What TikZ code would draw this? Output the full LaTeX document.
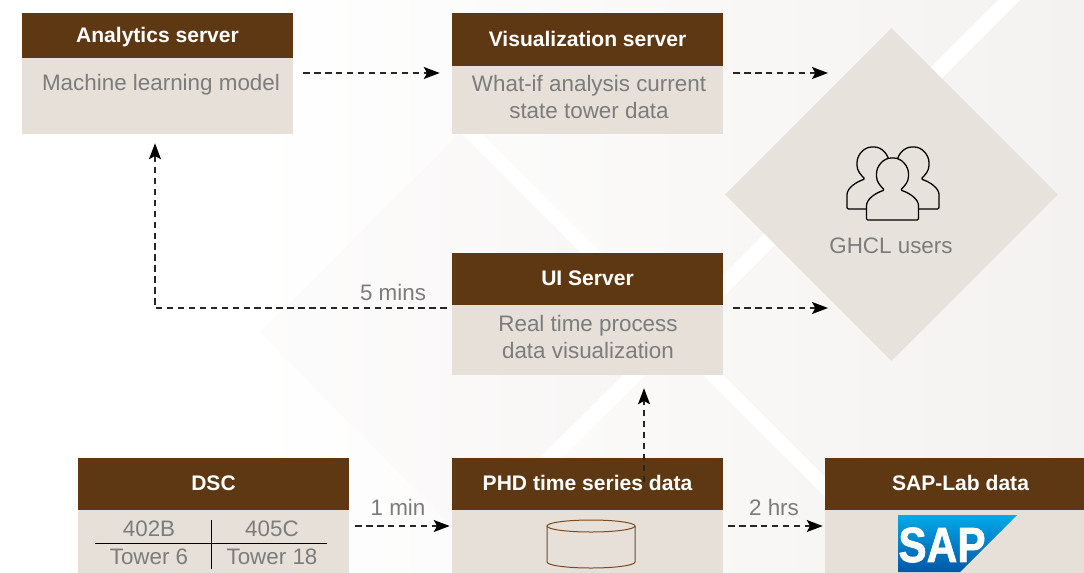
\documentclass[tikz,border=0pt]{standalone}
\usepackage{fontspec}
\setmainfont{Liberation Sans}
\newfontfamily\sapfont[UprightFont={* Bold},FakeBold=1.5]{Liberation Sans}
\usetikzlibrary{arrows.meta,shapes.geometric}
\definecolor{headbrown}{HTML}{5E3813}
\definecolor{bodytan}{HTML}{E6E0D9}
\definecolor{usertan}{HTML}{E8E2DC}
\definecolor{softgrey}{HTML}{7C7C7C}
\definecolor{bgright}{HTML}{F4F2F0}
\definecolor{tankbrown}{HTML}{7A4A20}
\definecolor{sapcyan}{HTML}{00A9E8}
\definecolor{sapblue}{HTML}{0057A8}
\definecolor{palefill}{HTML}{8A6A4A}
\tikzset{
	headbox/.style={fill=headbrown, text=white, font=\fontsize{15.8}{20}\selectfont\bfseries, minimum width=203.25pt, minimum height=#1, text height=11.5pt, text depth=1.6pt, inner sep=0pt},
	bodybox/.style={fill=bodytan, minimum width=203.25pt, minimum height=#1, inner sep=0pt},
	softtext/.style={text=softgrey, font=\fontsize{16.8}{20}\selectfont, align=center, inner sep=0pt},
	flow/.style={draw=black!85, line width=1.1pt, dash pattern=on 4.8pt off 3.4pt, -{Stealth[length=12pt,width=9pt,inset=2.5pt,black]}, shorten <=#1},
	flow/.default=4pt,
	userline/.style={draw=black, line width=0.95pt, fill=usertan, rounded corners=1pt}
}
\def\userglyph(#1,#2){\draw[userline, shift={(#1,#2)}] (-26,62) -- (-26,49) .. controls (-26,41) and (-17,35) .. (-8,32) .. controls (-12,28) and (-16,24) .. (-16,17) .. controls (-16,8) and (-9,0) .. (0,0) .. controls (9,0) and (16,8) .. (16,17) .. controls (16,24) and (12,28) .. (8,32) .. controls (17,35) and (26,41) .. (26,49) -- (26,62) -- cycle;}

\begin{document}
\begin{tikzpicture}[x=0.75pt, y=-0.75pt]
	%%%%% START %%%%%
	\useasboundingbox (0,0) rectangle (1084,572);
	\clip (0,0) rectangle (1084,572);

	\fill[white] (0,0) rectangle (1084,572);
	\shade[left color=white, right color=bgright] (250,0) rectangle (1084,572);
	\fill[palefill, opacity=0.015] (260,333) -- (460,133) -- (663,335) -- (460,535) -- cycle;
	\fill[white] (998,0) -- (1020,0) -- (520,500) -- (498,500) -- cycle;
	\fill[white] (462,134) -- (482,134) -- (878,530) -- (858,530) -- cycle;

	\node[diamond, aspect=1, fill=usertan, minimum width=249.75pt, minimum height=249.75pt, inner sep=0pt] (users) at (891.5,194.5) {};
	\userglyph(873,147)
	\userglyph(913,147)
	\userglyph(892.5,158)
	\node[softtext] (userstext) at (891,245.5) {GHCL users};

	\node[bodybox=57pt] (analyticsbody) at (157.5,96) {};
	\node[headbox=33.75pt] (analyticshead) at (157.5,35.5) {Analytics server};
	\node[softtext] (analyticstext) at (161,84.5) {Machine learning model};

	\node[bodybox=51pt] (visualbody) at (587.5,100) {};
	\node[headbox=39.75pt] (visualhead) at (587.5,39.5) {Visualization server};
	\node[softtext] (visualtext) at (589,97) {What-if analysis current\\state tower data};

	\node[bodybox=52.5pt] (uibody) at (587.5,340) {};
	\node[headbox=39pt] (uihead) at (587.5,279) {UI Server};
	\node[softtext] (uitext) at (588,337) {Real time process\\data visualization};

	\node[bodybox=70pt] (dscbody) at (213.5,556.7) {};
	\node[headbox=39pt] (dschead) at (213.5,484) {DSC};
	\node[softtext] (tagb) at (149,528.5) {402B};
	\node[softtext] (tagc) at (272,528.5) {405C};
	\node[softtext] (towersix) at (149,557) {Tower 6};
	\node[softtext] (towereighteen) at (272,557) {Tower 18};
	\draw[line width=0.75pt] (95,543) -- (327,543);
	\draw[line width=0.75pt] (211,520) -- (211,569);

	\node[bodybox=70pt] (phdbody) at (587.5,556.7) {};
	\node[headbox=39pt] (phdhead) at (587.5,484) {PHD time series data};
	\draw[tankbrown, line width=0.75pt] (591,526) ellipse (44 and 6);
	\draw[tankbrown, line width=0.75pt] (547,526) -- (547,562) arc (180:0:44 and 6) -- (635,526);

	\node[bodybox=70pt] (sapbody) at (960.5,556.7) {};
	\node[headbox=39pt] (saphead) at (960.5,484) {SAP-Lab data};
	\shade[top color=sapcyan, bottom color=sapblue] (898,515) -- (1017,515) -- (960,572) -- (898,572) -- cycle;
	\node[text=white, font=\fontsize{37}{40}\selectfont\sapfont, xscale=0.86, inner sep=0pt] (saplogo) at (942,545) {SAP};

	\coordinate (topLane) at (0,73);
	\coordinate (midLane) at (0,308);
	\coordinate (lowLane) at (0,526);
	\coordinate (usersPort) at (828,0);
	\coordinate (elbow) at (155,308);
	\coordinate (phdStart) at (644,482);

	\draw[flow=7.5pt, shorten >=9pt] (analyticsbody.east |- topLane) -- (visualbody.west |- topLane);
	\draw[flow=7.5pt] (visualbody.east |- topLane) -- (usersPort |- topLane);
	\draw[flow=7.5pt] (uibody.east |- midLane) -- (usersPort |- midLane);
	\draw[flow=3.75pt, shorten >=6.75pt] (uibody.west |- midLane) -- (elbow) -- (elbow |- analyticsbody.south);
	\draw[flow=4.5pt, shorten >=1.5pt] (dscbody.east |- lowLane) -- (phdbody.west |- lowLane);
	\draw[flow=3.75pt, shorten >=1.5pt] (phdbody.east |- lowLane) -- (sapbody.west |- lowLane);
	\draw[flow=0pt, shorten >=9.75pt] (phdStart) -- (phdStart |- uibody.south);

	\node[softtext] (fivemins) at (393,292) {5 mins};
	\node[softtext] (onemin) at (398,507) {1 min};
	\node[softtext] (twohrs) at (774,507) {2 hrs};
	%%%%% END %%%%%
\end{tikzpicture}
\end{document}
